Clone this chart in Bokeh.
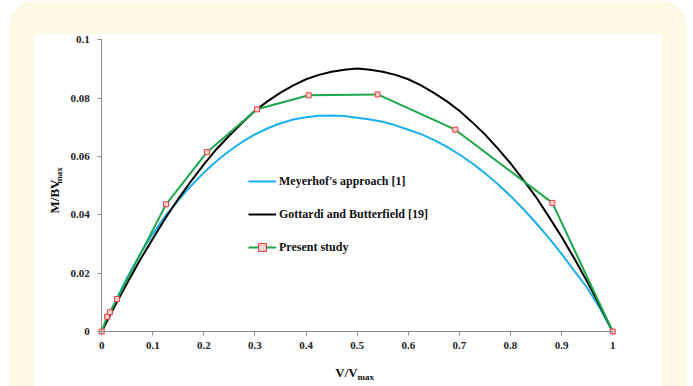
from bokeh.plotting import figure
from bokeh.models import Range1d, FixedTicker, Legend, LegendItem, Label, Column
from bokeh.embed import file_html
from bokeh.resources import INLINE

# Meyerhof's approach [1]
mey_v = [0, 0.015, 0.03, 0.05, 0.075, 0.1, 0.125, 0.15, 0.175, 0.2, 0.225, 0.25, 0.275,
         0.3, 0.325, 0.35, 0.375, 0.4, 0.425, 0.45, 0.475, 0.5, 0.525, 0.55, 0.575, 0.6,
         0.625, 0.65, 0.675, 0.7, 0.725, 0.75, 0.775, 0.8, 0.825, 0.85, 0.875, 0.9, 0.925,
         0.95, 0.975, 1.0]
mey_m = [0, 0.0058, 0.0115, 0.0185, 0.0265, 0.0335, 0.0397, 0.0450, 0.0500, 0.0545, 0.0585,
         0.0620, 0.0650, 0.0676, 0.0697, 0.0714, 0.0727, 0.0735, 0.0740, 0.0741, 0.0739,
         0.0733, 0.0727, 0.0719, 0.0707, 0.0692, 0.0677, 0.0657, 0.0634, 0.0607, 0.0577,
         0.0543, 0.0506, 0.0465, 0.0420, 0.0372, 0.0321, 0.0266, 0.0208, 0.0150, 0.0080, 0]

# Gottardi and Butterfield [19]
got_v = [0, 0.025, 0.05, 0.075, 0.1, 0.125, 0.15, 0.175, 0.2, 0.225, 0.25, 0.275, 0.3,
         0.325, 0.35, 0.375, 0.4, 0.425, 0.45, 0.475, 0.5, 0.525, 0.55, 0.575, 0.6, 0.625,
         0.65, 0.675, 0.7, 0.725, 0.75, 0.775, 0.8, 0.825, 0.85, 0.875, 0.9, 0.925, 0.95,
         0.975, 1.0]
got_m = [0, 0.0086, 0.0166, 0.0245, 0.0318, 0.0389, 0.0455, 0.0516, 0.0573, 0.0626, 0.0672,
         0.0716, 0.0757, 0.0790, 0.0819, 0.0844, 0.0865, 0.0880, 0.0891, 0.0898, 0.0902,
         0.0898, 0.0891, 0.0880, 0.0865, 0.0844, 0.0818, 0.0790, 0.0757, 0.0718, 0.0676,
         0.0628, 0.0577, 0.0520, 0.0461, 0.0394, 0.0325, 0.0250, 0.0171, 0.0088, 0]

# Present study
pre_v = [0, 0.0107, 0.016, 0.030, 0.126, 0.206, 0.304, 0.405, 0.540, 0.692, 0.882, 1.0]
pre_m = [0, 0.0051, 0.0066, 0.0111, 0.0436, 0.0615, 0.0762, 0.0810, 0.0813, 0.0692, 0.0441, 0]

x_ticks = [0, 0.1, 0.2, 0.3, 0.4, 0.5, 0.6, 0.7, 0.8, 0.9, 1]
x_tick_labels = ["0", "0.1", "0.2", "0.3", "0.4", "0.5", "0.6", "0.7", "0.8", "0.9", "1"]
y_ticks = [0, 0.02, 0.04, 0.06, 0.08, 0.1]
y_tick_labels = ["0", "0.02", "0.04", "0.06", "0.08", "0.1"]

FONT = "Liberation Serif"

# the plotting frame covers the whole white panel; axes sit at V=0 and M=0
p = figure(width=628, height=352, output_backend="svg", toolbar_location=None,
           x_range=Range1d(-0.1315, 1.0975), y_range=Range1d(-0.01886, 0.10185),
           min_border_left=0, min_border_right=0, min_border_top=0, min_border_bottom=0)
p.background_fill_color = "white"
p.border_fill_color = "white"
p.outline_line_color = None
p.grid.visible = False

for ax, ticks, labels, bnds in ((p.xaxis[0], x_ticks, x_tick_labels, (0, 1)),
                                (p.yaxis[0], y_ticks, y_tick_labels, (0, 0.1))):
    ax.ticker = FixedTicker(ticks=ticks)
    ax.major_label_overrides = {t: l for t, l in zip(ticks, labels)}
    ax.fixed_location = 0
    ax.bounds = bnds
    ax.axis_line_color = "#8c8c8c"
    ax.axis_line_width = 1
    ax.major_tick_line_color = "#8c8c8c"
    ax.major_tick_in = 0
    ax.major_tick_out = 4
    ax.minor_tick_line_color = None
    ax.major_label_text_font = FONT
    ax.major_label_text_font_style = "bold"
    ax.major_label_text_font_size = "11px"
    ax.major_label_text_color = "#222222"
p.xaxis[0].major_label_standoff = 6
p.yaxis[0].major_label_standoff = 8

r_mey = p.line(mey_v, mey_m, line_color="#1AB0EC", line_width=2)
r_got = p.line(got_v, got_m, line_color="#000000", line_width=2)
r_pre = p.line(pre_v, pre_m, line_color="#1BA84A", line_width=2)
r_pts = p.scatter(pre_v, pre_m, marker="square", size=5, line_color="#E8383D",
                  fill_color="#FFD0D0", line_width=1)

legend = Legend(items=[
    LegendItem(label="Meyerhof's approach [1]", renderers=[r_mey]),
    LegendItem(label="Gottardi and Butterfield [19]", renderers=[r_got]),
    LegendItem(label="Present study", renderers=[r_pre, r_pts]),
], location=(214, 129), orientation="vertical")
legend.border_line_color = None
legend.background_fill_alpha = 0
legend.padding = 0
legend.margin = 0
legend.spacing = 13
legend.glyph_width = 28
legend.glyph_height = 20
legend.label_height = 20
legend.label_standoff = 3
legend.label_text_font = FONT
legend.label_text_font_style = "bold"
legend.label_text_font_size = "12px"
legend.label_text_color = "#111111"
p.add_layout(legend, "center")

# axis titles with subscripts
p.add_layout(Label(x=0.479, y=-0.0141, text="V/V", text_font=FONT, text_font_style="bold",
                   text_font_size="13px", text_align="center", text_baseline="middle",
                   text_color="#111111"))
p.add_layout(Label(x=0.5006, y=-0.0156, text="max", text_font=FONT, text_font_style="bold",
                   text_font_size="9px", text_align="left", text_baseline="middle",
                   text_color="#111111"))
p.add_layout(Label(x=-0.0924, y=0.0463, text="M/BV", text_font=FONT, text_font_style="bold",
                   text_font_size="13px", text_align="center", text_baseline="middle",
                   angle=1.5708, text_color="#111111"))
p.add_layout(Label(x=-0.0845, y=0.0535, text="max", text_font=FONT, text_font_style="bold",
                   text_font_size="9px", text_align="center", text_baseline="middle",
                   angle=1.5708, text_color="#111111"))

page = Column(children=[p], margin=(1, 0, 0, 9),
              styles={"background-color": "white", "border-style": "solid",
                      "border-color": "#FFFAE6", "border-width": "33px 25px 0 25px",
                      "border-radius": "26px 26px 0 0", "box-sizing": "border-box",
                      "height": "385px", "overflow": "visible"})

open("out.html", "w").write(file_html(page, INLINE))
